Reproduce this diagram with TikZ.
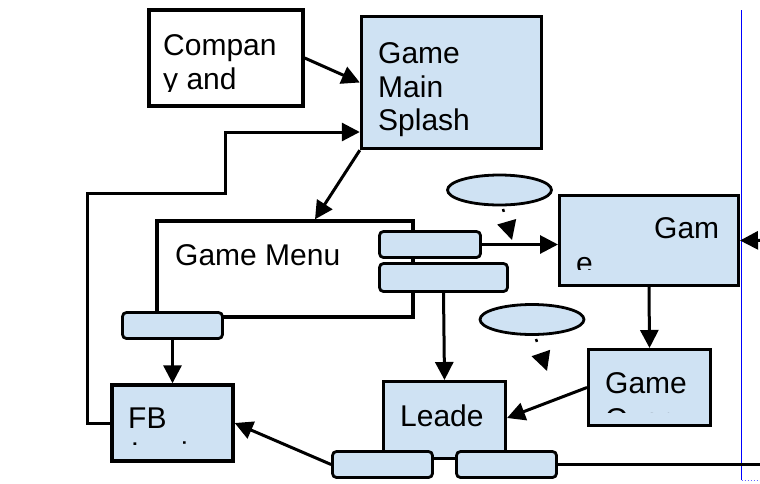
\documentclass[tikz,border=0pt]{standalone}
\usepackage{fontspec}
\setmainfont{Liberation Sans}
\usetikzlibrary{arrows.meta,shapes.geometric}
\definecolor{boxblue}{HTML}{CFE2F3}
\definecolor{guide}{RGB}{0,0,255}

\begin{document}
\begin{tikzpicture}[x=1pt,y=-1pt,
  lbl/.style={anchor=base west,inner sep=0pt,font=\fontsize{30pt}{34.5pt}\selectfont},
  bigbox/.style={draw,line width=3.4pt,fill=boxblue,inner sep=0pt},
  plainbox/.style={bigbox,fill=white},
  tab/.style={draw,line width=2.8pt,fill=boxblue,rounded corners=4pt,inner sep=0pt,
              minimum width=100pt,minimum height=26pt},
  oval/.style={draw,ellipse,line width=2.8pt,fill=boxblue,inner sep=0pt,
               minimum width=104pt,minimum height=30pt},
  arr/.style={line width=3pt,-{Triangle[length=18pt,width=18pt]}},
  dotarr/.style={line width=2.5pt,dash pattern=on 3pt off 60pt,
                 -{Triangle[length=19pt,width=19pt]}}
]
\useasboundingbox (0,0) rectangle (760,483);
\clip (0,0) rectangle (760,483);

% page guide on the right
\draw[guide,line width=1.5pt] (741.5,10) -- (741.5,480);
\draw[guide!60,line width=1pt,dotted] (741.5,480) -- (760,480);

% start screens
\node[plainbox,minimum width=154pt,minimum height=96pt] (comp) at (226,58) {};
\begin{scope}
  \clip (149,10) rectangle (303,91);
  \node[lbl] (tcomp1) at (163,55) {Compan};
  \node[lbl] (tcomp2) at (163,89.5) {y and};
\end{scope}

\node[bigbox,minimum width=180pt,minimum height=132pt] (splash) at (451.5,82.5) {};
\node[lbl] (tsplash1) at (378,63) {Game};
\node[lbl] (tsplash2) at (378,97) {Main};
\node[lbl] (tsplash3) at (378,130.5) {Splash};

% game menu with its buttons
\node[plainbox,minimum width=256pt,minimum height=96pt] (menu) at (285,269) {};
\node[lbl] (tmenu) at (175,265) {Game Menu};
\node[tab] (mfb) at (172.5,325.5) {};
\node[tab,minimum width=101pt] (mb1) at (430,244.5) {};
\node[tab,minimum width=128pt,minimum height=28pt] (mb2) at (443.5,277.5) {};

% game screens
\node[bigbox,line width=3pt,minimum width=179pt,minimum height=90pt] (game) at (649,240.5) {};
\begin{scope}
  \clip (560,196) rectangle (737,269);
  \node[lbl] (tgame1) at (654,238) {Gam};
  \node[lbl] (tgame2) at (576,273) {e};
\end{scope}

\node[bigbox,line width=3pt,minimum width=122pt,minimum height=76pt] (over) at (649.5,387.5) {};
\begin{scope}
  \clip (590,351) rectangle (709,412.5);
  \node[lbl] (tover1) at (605,393) {Game};
  \node[lbl] (tover2) at (605,429.3) {Over};
\end{scope}

\node[oval] (e1) at (499.5,190) {};
\node[oval] (e2) at (532,319.5) {};

% leaderboard with its buttons
\node[bigbox,line width=3pt,minimum width=122pt,minimum height=77pt] (lead) at (444.5,420) {};
\node[lbl] (tlead) at (400,426) {Leade};
\node[tab] (lb1) at (382.5,464.5) {};
\node[tab] (lb2) at (506.5,464.5) {};

% facebook login
\node[bigbox,minimum width=121pt,minimum height=76pt] (fb) at (172.5,423) {};
\begin{scope}
  \clip (114,387) rectangle (231,444.5);
  \node[lbl] (tfb1) at (128,428) {FB};
  \node[lbl] (tfb2) at (131,463) {Login};
\end{scope}

% connectors
\coordinate (d1) at (503,209);
\coordinate (t1) at (512,240);
\coordinate (d2) at (536,339);
\coordinate (t2) at (547,371);
\coordinate (rin) at (800,240);
\coordinate (rexit) at (770,464.5);

\draw[arr] (comp.east) -- (splash.west);
\draw[arr] (splash.south west) -- ([xshift=30pt]menu.north);
\draw[arr] (fb.west) -- (87,423) -- (87,193) -- (225,193) -- (225,132)
           -- ([yshift=-49.5pt]splash.west);
\draw[arr] (mb1.east) -- (mb1.east -| game.west);
\draw[arr] (mb2.south) -- (lead.north);
\draw[arr] (mfb.south) -- (fb.north);
\draw[arr] (game.south) -- (over.north);
\draw[arr] (over.west) -- ([yshift=2pt]lead.east);
\draw[arr] (lb1.west) -- (fb.east);
\draw[arr] (rin) -- (game.east);
\draw[line width=3pt] (lb2.east) -- (rexit);
\draw[dotarr] (d1) -- (t1);
\draw[dotarr] (d2) -- (t2);
\end{tikzpicture}
\end{document}
